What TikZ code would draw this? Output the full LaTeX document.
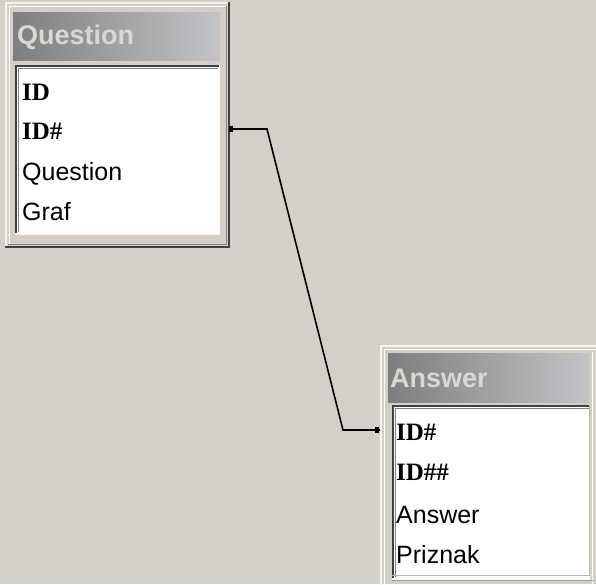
\documentclass[tikz,border=0pt]{standalone}
\usepackage{fontspec}
\setmainfont{Liberation Sans}
\newfontfamily\keyfont{Liberation Serif}
\definecolor{winbg}{HTML}{D4D0C8}
\definecolor{windark}{HTML}{404040}
\definecolor{winmid}{HTML}{808080}
\definecolor{winlight}{HTML}{F4F4F0}
\definecolor{titleL}{HTML}{7E7E7E}
\definecolor{titleR}{HTML}{C4C4C8}
\definecolor{titletxt}{HTML}{DAD8D2}
\begin{document}
\begin{tikzpicture}[x=1pt,y=-1pt,
  fieldtxt/.style={anchor=west,inner sep=0pt,font=\fontsize{25}{27}\selectfont,text=black},
  keytxt/.style={anchor=west,inner sep=0pt,font=\keyfont\bfseries\fontsize{25}{27}\selectfont,text=black},
  titletext/.style={anchor=west,inner sep=0pt,font=\bfseries\fontsize{27}{29}\selectfont,text=titletxt},
  link/.style={line width=1.6pt,black},
  endsq/.style={fill=black}]
\useasboundingbox (0,0) rectangle (596,584);
\fill[winbg] (0,0) rectangle (596,584);

% ---------------- Question table ----------------
\node[draw=none,inner sep=0pt,minimum width=225pt,minimum height=246pt,anchor=north west] (qtab) at (5,2) {};
% raised frame
\draw[winlight,line width=2pt] (6,247) -- (6,3) -- (229,3);
\draw[white,line width=1pt] (9,244) -- (9,6) -- (226,6);
\draw[windark,line width=2pt] (5,247) -- (229,247) -- (229,2);
\draw[winmid,line width=1pt] (8,244.5) -- (226.5,244.5) -- (226.5,6);
% title bar
\shade[left color=titleL,right color=titleR] (13,12) rectangle (220,60);
\node[titletext] (qtitle) at (17,37) {Question};
% fields box (sunken)
\fill[white] (15,65) rectangle (219,234);
\draw[windark,line width=2pt] (16,233) -- (16,66) -- (219,66);
\draw[winmid,line width=1pt] (18.5,232) -- (18.5,68.5) -- (218,68.5);
\draw[winlight,line width=1pt] (15,234) -- (219.5,234) -- (219.5,65);
\node[keytxt] (qf1) at (22,92) {ID};
\node[keytxt] (qf2) at (22,131) {ID\#};
\node[fieldtxt] (qf3) at (22,174) {Question};
\node[fieldtxt] (qf4) at (22,212) {Graf};

% ---------------- Answer table ----------------
\node[draw=none,inner sep=0pt,minimum width=220pt,minimum height=240pt,anchor=north west] (atab) at (380,345) {};
\draw[winlight,line width=2pt] (381,590) -- (381,346) -- (600,346);
\draw[white,line width=1pt] (384,590) -- (384,349) -- (600,349);
% title bar
\shade[left color=titleL,right color=titleR] (388,353) rectangle (589,402);
\draw[white,line width=1pt] (592,352) -- (592,584);
\node[titletext] (atitle) at (390,378) {Answer};
% fields box
\fill[white] (392,405) rectangle (590,580);
\draw[windark,line width=2pt] (393,578) -- (393,406) -- (590,406);
\draw[winmid,line width=1pt] (395.5,577) -- (395.5,408.5) -- (589,408.5);
\draw[winmid!60!white,line width=1pt] (392,575.5) -- (589.5,575.5) -- (589.5,405);
\draw[winmid!80!white,line width=1pt] (392,580.5) -- (593,580.5);
\node[keytxt] (af1) at (396,432) {ID\#};
\node[keytxt] (af2) at (396,472) {ID\#\#};
\node[fieldtxt] (af3) at (396,515) {Answer};
\node[fieldtxt] (af4) at (396,555) {Priznak};

% ---------------- Relationship ----------------
\coordinate (qport) at (qtab.east |- 0,129);
\coordinate (aport) at (atab.west |- 0,430);
\coordinate (bend1) at (267,129);
\coordinate (bend2) at (343,430);
\draw[link] (qport) -- (bend1) -- (bend2) -- (aport);
\fill[endsq] ([xshift=-1pt,yshift=-3pt]qport) rectangle ([xshift=3pt,yshift=3pt]qport);
\fill[endsq] ([xshift=-5pt,yshift=-3pt]aport) rectangle ([xshift=-1pt,yshift=3pt]aport);
\end{tikzpicture}
\end{document}
